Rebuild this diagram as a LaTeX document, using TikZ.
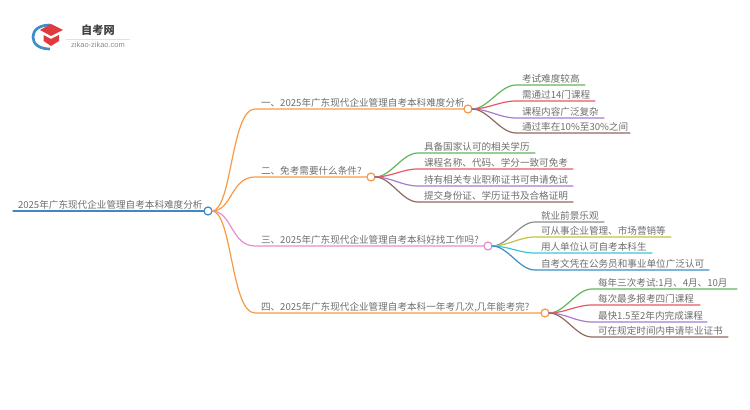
\documentclass[tikz,border=0pt]{standalone}
\usepackage{fontspec}
\setmainfont{Noto Sans CJK SC}
\setsansfont{Liberation Sans}
\usetikzlibrary{calc}
\definecolor{txt}{HTML}{6E6E6E}
\definecolor{corg}{HTML}{F79A45}
\definecolor{cpink}{HTML}{E88CD0}
\definecolor{cblue}{HTML}{3F88C5}
\definecolor{cgreen}{HTML}{5DB75A}
\definecolor{cred}{HTML}{E5595F}
\definecolor{cpurp}{HTML}{A87BCF}
\definecolor{cbrown}{HTML}{8F6A5F}
\definecolor{cgray}{HTML}{8C8C8C}
\definecolor{colive}{HTML}{C4C23F}
\definecolor{ccyan}{HTML}{3CC4D8}
\definecolor{cdeep}{HTML}{3C8DC8}
\definecolor{cbad}{HTML}{E0393E}
\tikzset{
  x=0.75pt,y=-0.75pt,
  txtlabel/.style={inner xsep=0pt,inner ysep=1pt,outer sep=0pt,font=\fontsize{7.2pt}{8pt}\selectfont,text=txt,anchor=south west,text height=7pt,text depth=1.2pt},
  hub/.style={circle,draw=#1,fill=white,line width=0.9pt,minimum size=6pt,inner sep=0pt,outer sep=0pt},
  link/.style={draw=#1,line width=0.9pt,line cap=round},
}
\newcommand{\mybranch}[7]{%
  \node[hub=#2] (#1hub) at (#6,#4) {};
  \node[txtlabel] (#1) at (#5,#4) {#7};
  \coordinate (#1in) at (#3,#4);
  \draw[link=#2] (roothub.east) .. controls ($(roothub.east)+(20,0)$) and ($(#1in)+(-24,0)$) .. (#1in) -- (#1hub.west);
}
\newcommand{\myleaf}[7]{%
  \node[txtlabel] (#1) at (#5,#4) {#7};
  \coordinate (#1a) at ($(#5,#4)+(-6,0)$);
  \coordinate (#1b) at (#6,#4);
  \draw[link=#3] (#2hub.east) .. controls ($(#2hub.east)+(16,0)$) and ($(#1a)+(-16,0)$) .. (#1a) -- (#1b);
}
\begin{document}
\begin{tikzpicture}
\useasboundingbox (0,0) rectangle (750,410);
% logo
\draw[cdeep,line width=2pt] (50,25) .. controls (38,25) and (33,31) .. (33,37) .. controls (33,44) and (39,49) .. (50,49);
\fill[cbad] (51,36) -- (63,30) -- (51,24) -- (40,30) -- cycle;
\fill[cbad] (43.5,35) -- (51,39) -- (59,35) -- (59,41) -- (51,46) -- (43.5,41) -- cycle;
\node[inner sep=0pt,font=\fontsize{8.4pt}{9pt}\selectfont\bfseries,text=black!75] (logotitle) at (98,30) {自考网};
\node[inner sep=0pt,font=\sffamily\fontsize{5.6pt}{6pt}\selectfont,text=black!45] (logourl) at (98,45) {zikao-zikao.com};
\draw[black!12,line width=0.5pt] (66,39) -- (130,39);
% root
\node[hub=cblue] (roothub) at (208,211) {};
\node[txtlabel] (root) at (18,211) {2025年广东现代企业管理自考本科难度分析};
\coordinate (rootstart) at (13,211);
\draw[link=cblue] (rootstart) -- (roothub.west);
% branches
\mybranch{a}{corg}{255}{109}{261}{468}{一、2025年广东现代企业管理自考本科难度分析}
\mybranch{b}{corg}{255}{177}{261}{371}{二、免考需要什么条件?}
\mybranch{c}{cpink}{255}{246}{261}{488}{三、2025年广东现代企业管理自考本科好找工作吗?}
\mybranch{d}{corg}{255}{313}{261}{545}{四、2025年广东现代企业管理自考本科一年考几次,几年能考完?}
% leaves
\myleaf{a1}{a}{cgreen}{85}{522}{585}{考试难度较高}
\myleaf{a2}{a}{cred}{101}{522}{595}{需通过14门课程}
\myleaf{a3}{a}{cpurp}{118}{522}{604}{课程内容广泛复杂}
\myleaf{a4}{a}{cbrown}{133}{522}{630}{通过率在10\%至30\%之间}
\myleaf{b1}{b}{cgreen}{153}{424}{535}{具备国家认可的相关学历}
\myleaf{b2}{b}{cred}{169}{424}{573}{课程名称、代码、学分一致可免考}
\myleaf{b3}{b}{cpurp}{186}{424}{573}{持有相关专业职称证书可申请免试}
\myleaf{b4}{b}{cbrown}{202}{424}{573}{提交身份证、学历证书及合格证明}
\myleaf{c1}{c}{cgray}{222}{541}{604}{就业前景乐观}
\myleaf{c2}{c}{colive}{237}{541}{671}{可从事企业管理、市场营销等}
\myleaf{c3}{c}{ccyan}{253}{541}{652}{用人单位认可自考本科生}
\myleaf{c4}{c}{cdeep}{270}{541}{709}{自考文凭在公务员和事业单位广泛认可}
\myleaf{d1}{d}{cgreen}{289}{598}{737}{每年三次考试:1月、4月、10月}
\myleaf{d2}{d}{cred}{305}{598}{700}{每次最多报考四门课程}
\myleaf{d3}{d}{cpurp}{322}{598}{707}{最快1.5至2年内完成课程}
\myleaf{d4}{d}{cbrown}{337}{598}{728}{可在规定时间内申请毕业证书}
\end{tikzpicture}
\end{document}
